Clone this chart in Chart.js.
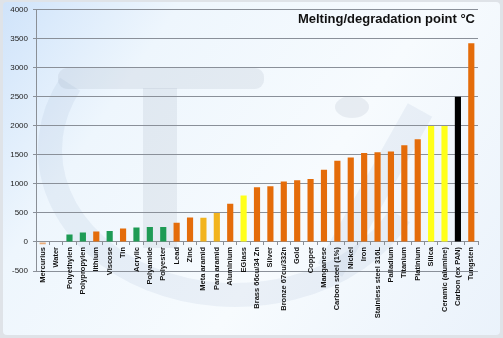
<!DOCTYPE html>
<html>
<head>
<meta charset="utf-8">
<script src="https://cdn.jsdelivr.net/npm/chart.js@4/dist/chart.umd.min.js"></script>
<style>
  html, body { margin: 0; padding: 0; background: #fff; }
  #wrap { width: 503px; height: 338px; }
</style>
</head>
<body>
<div id="wrap"><canvas id="meltChart" width="503" height="338"></canvas></div>
<script>
// Данные: материалы и температура плавления / разложения (°C)
const materials = ['Mercurius', 'Water', 'Polyethylen', 'Polypropylen', 'lithium', 'Viscose', 'Tin', 'Acrylic',
  'Polyamide', 'Polyester', 'Lead', 'Zinc', 'Meta aramid', 'Para aramid', 'Aluminium', 'EGlass',
  'Brass 66cu/34 Zn', 'Silver', 'Bronze 67cu/332n', 'Gold', 'Copper', 'Manganese', 'Carbon steel (1%)',
  'Nickel', 'Iron', 'Stainless steel 316L', 'Palladium', 'Titanium', 'Platinium', 'Silica',
  'Ceramic (alumine)', 'Carbon (ex PAN)', 'Tungsten'];
const meltingPoint = [-39, 0, 130, 165, 180, 190, 232, 250, 260, 260, 330, 420, 418, 500, 660, 800,
  945, 962, 1040, 1064, 1085, 1246, 1400, 1455, 1535, 1545, 1560, 1668, 1770, 2000,
  2000, 2500, 3422];
const materialGroup = ['metal', 'other', 'polymer', 'polymer', 'metal', 'polymer', 'metal', 'polymer',
  'polymer', 'polymer', 'metal', 'metal', 'aramid', 'aramid', 'metal', 'mineral',
  'metal', 'metal', 'metal', 'metal', 'metal', 'metal', 'metal',
  'metal', 'metal', 'metal', 'metal', 'metal', 'metal', 'mineral',
  'mineral', 'carbon', 'metal'];
const yTicks = { min: -500, max: 4000, step: 500 };
const chartTitle = 'Melting/degradation point °C';

const groupColor = {
  metal: '#E46C0A',
  polymer: '#1E9B55',
  aramid: '#F2B41E',
  mineral: '#FFFF1A',
  carbon: '#000000',
  other: '#E46C0A'
};
const barColors = materialGroup.map((g, i) => meltingPoint[i] < 0 ? 'rgba(228,108,10,0.55)' : groupColor[g]);

// Фон: рамка, градиент и бледный логотип
const backgroundPlugin = {
  id: 'bg',
  beforeDraw(chart) {
    const { ctx, width, height } = chart;
    ctx.save();
    ctx.fillStyle = '#dfe3e8';
    ctx.fillRect(0, 0, width, height);
    const g = ctx.createLinearGradient(0, 0, width, height);
    g.addColorStop(0, '#cfe3fa');
    g.addColorStop(0.25, '#eef6fd');
    g.addColorStop(0.6, '#f7fbfe');
    g.addColorStop(1, '#eaf2fb');
    ctx.fillStyle = g;
    ctx.beginPath();
    ctx.roundRect(3, 2, width - 6, height - 5, 4);
    ctx.fill();

    // логотип-водяной знак
    ctx.globalAlpha = 0.17;
    ctx.fillStyle = '#9aa6b8';
    ctx.beginPath();
    ctx.roundRect(58, 68, 206, 21, 9);
    ctx.fill();
    ctx.fillRect(143, 88, 34, 160);
    ctx.beginPath();
    ctx.ellipse(352, 107, 17, 11, 0, 0, Math.PI * 2);
    ctx.fill();
    ctx.globalAlpha = 0.12;
    ctx.strokeStyle = '#8ea6c8';
    ctx.lineWidth = 24;
    ctx.beginPath();
    ctx.ellipse(235, 150, 185, 145, 0, Math.PI * 0.15, Math.PI * 1.15);
    ctx.stroke();
    ctx.lineWidth = 28;
    ctx.beginPath();
    ctx.moveTo(420, 110);
    ctx.lineTo(330, 270);
    ctx.stroke();
    ctx.restore();
  },
  afterDraw(chart) {
    const { ctx, chartArea } = chart;
    ctx.save();
    ctx.font = 'bold 13px "Liberation Sans", Arial, sans-serif';
    ctx.fillStyle = '#111';
    ctx.textAlign = 'right';
    ctx.textBaseline = 'middle';
    ctx.fillText(chartTitle, chartArea.right - 3, 19);
    ctx.restore();
  }
};

const ctx = document.getElementById('meltChart').getContext('2d');
new Chart(ctx, {
  type: 'bar',
  data: {
    labels: materials,
    datasets: [{
      label: chartTitle,
      data: meltingPoint,
      backgroundColor: barColors,
      borderWidth: 0,
      barPercentage: 0.46,
      categoryPercentage: 1
    }]
  },
  options: {
    responsive: false,
    animation: false,
    layout: { padding: { top: 9, right: 25, left: 0, bottom: 67 } },
    plugins: {
      legend: { display: false },
      tooltip: { enabled: false }
    },
    scales: {
      x: {
        position: { y: 0 },
        grid: { display: true, drawOnChartArea: false, drawTicks: true, tickLength: 3, color: '#8a8f96', offset: true },
        border: { display: true, color: '#8a8f96' },
        ticks: {
          autoSkip: false,
          minRotation: 90,
          maxRotation: 90,
          padding: 2,
          color: '#111',
          font: { family: '"Liberation Sans", Arial, sans-serif', size: 7.5, weight: 'bold' }
        }
      },
      y: {
        min: yTicks.min,
        max: yTicks.max,
        grid: { color: '#8a9099', lineWidth: 1, drawTicks: true, tickLength: 3 },
        border: { display: true, color: '#8a8f96' },
        ticks: {
          stepSize: yTicks.step,
          padding: 5,
          color: '#222',
          font: { family: '"Liberation Sans", Arial, sans-serif', size: 8 },
          callback: v => String(v)
        },
        afterFit(scale) { scale.width = 36; }
      }
    }
  },
  plugins: [backgroundPlugin]
});
</script>
</body>
</html>
